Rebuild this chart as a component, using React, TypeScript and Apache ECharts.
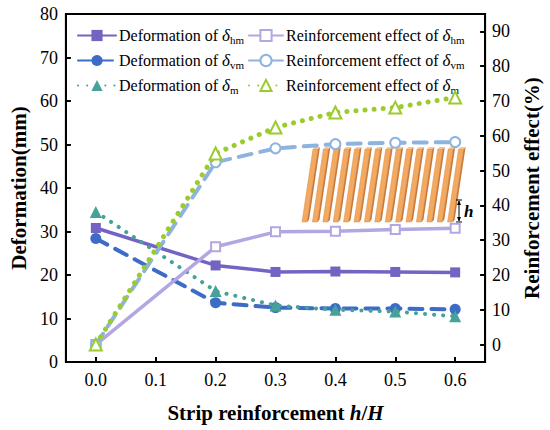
import React, { useEffect, useRef } from 'react';
import * as echarts from 'echarts';

const xValues = [0, 0.2, 0.3, 0.4, 0.5, 0.6];
const xTicks = [0, 0.1, 0.2, 0.3, 0.4, 0.5, 0.6];
const rightTicks = [0, 10, 20, 30, 40, 50, 60, 70, 80, 90];

const seriesNames = [
  'Deformation of δhm',
  'Deformation of δvm',
  'Deformation of δm',
  'Reinforcement effect of δhm',
  'Reinforcement effect of δvm',
  'Reinforcement effect of δm',
];

const defHm = [30.8, 22.2, 20.7, 20.8, 20.7, 20.6];
const defVm = [28.4, 13.6, 12.5, 12.3, 12.3, 12.1];
const defM = [34.5, 16.3, 13.0, 12.0, 11.6, 10.5];
const effHm = [0, 28.1, 32.4, 32.6, 33.1, 33.4];
const effVm = [0, 52.4, 56.4, 57.6, 58.0, 58.2];
const effM = [0, 54.9, 62.4, 66.7, 68.1, 71.0];

const FONT = 'Liberation Serif, Times New Roman, serif';

function App() {
  const ref = useRef<HTMLDivElement>(null);
  useEffect(() => {
    document.body.style.margin = '0';
    if (!ref.current) return;
    const chart = echarts.init(ref.current, undefined, { renderer: 'svg' });

    const mk = (
      idx: number,
      data: number[],
      yAxisIndex: number,
      color: string,
      lineType: any,
      width: number,
      symbol: string,
      symbolSize: number,
      hollow: boolean
    ) => ({
      name: seriesNames[idx],
      type: 'line',
      yAxisIndex,
      data: xValues.map((x, i) => [x, data[i]]),
      symbol,
      symbolSize,
      showSymbol: true,
      lineStyle: { color, width, type: lineType, cap: 'round' },
      itemStyle: hollow ? { color, borderColor: color, borderWidth: 2 } : { color },
      emphasis: { disabled: true },
      z: 3 + idx,
    });

    const dotted = [0.1, 9];
    const dashed = [13, 9];

    const slabs: any[] = [];
    for (let i = 0; i < 15; i++) {
      const bx = 302 + i * 10.4;
      slabs.push({
        type: 'polygon',
        shape: { points: [[bx, 222], [bx + 5, 222], [bx + 16, 149], [bx + 11, 149]] },
        style: { fill: '#f3a95f', stroke: '#d98c45', lineWidth: 0.5 },
        z: 1,
      });
      slabs.push({
        type: 'polygon',
        shape: { points: [[bx + 5, 222], [bx + 7, 220], [bx + 18, 147], [bx + 16, 149]] },
        style: { fill: '#c9793a' },
        z: 1,
      });
      slabs.push({
        type: 'polygon',
        shape: { points: [[bx + 11, 149], [bx + 16, 149], [bx + 18, 147], [bx + 13, 147]] },
        style: { fill: '#f7c48e' },
        z: 1,
      });
    }

    const legendText = {
      fontFamily: FONT,
      fontSize: 16,
      color: '#000',
      padding: [0, 0, 0, -2],
      rich: {
        d: { fontFamily: FONT, fontSize: 17, fontStyle: 'italic', color: '#000' },
        s: { fontFamily: FONT, fontSize: 11, padding: [8, 0, 0, 0], color: '#000' },
      },
    };
    const legendFormatter = (name: string) => name.replace(/δ(\w+)$/, '{d|δ}{s|$1}');

    const tickLabel = {
      fontFamily: FONT,
      fontSize: 18,
      color: '#000',
      rich: { t: { fontFamily: FONT, fontSize: 18, color: '#000' } },
    };

    chart.setOption({
      animation: false,
      backgroundColor: '#fff',
      textStyle: { fontFamily: FONT },
      grid: {
        left: 61,
        right: 59,
        top: 14,
        bottom: 68,
        show: true,
        borderColor: '#000',
        borderWidth: 2,
        backgroundColor: 'transparent',
      },
      legend: [
        {
          data: seriesNames.slice(0, 3),
          orient: 'vertical',
          left: 72,
          top: 22,
          itemWidth: 38,
          itemHeight: 14,
          itemGap: 7,
          textStyle: legendText,
          formatter: legendFormatter,
          selectedMode: false,
        },
        {
          data: seriesNames.slice(3, 6),
          orient: 'vertical',
          left: 243,
          top: 22,
          itemWidth: 34,
          itemHeight: 14,
          itemGap: 7,
          textStyle: legendText,
          formatter: legendFormatter,
          selectedMode: false,
        },
      ],
      xAxis: {
        type: 'value',
        min: -0.05,
        max: 0.65,
        name: 'Strip reinforcement {i|h}/{i|H}',
        nameLocation: 'middle',
        nameGap: 40,
        nameTextStyle: {
          fontFamily: FONT,
          fontSize: 21,
          fontWeight: 'bold',
          color: '#000',
          rich: {
            i: { fontFamily: FONT, fontSize: 21, fontWeight: 'bold', fontStyle: 'italic', color: '#000' },
          },
        },
        axisLine: { onZero: false, lineStyle: { color: '#000', width: 2 } },
        axisTick: { inside: true, length: 5, lineStyle: { color: '#000', width: 2 }, customValues: xTicks },
        axisLabel: {
          ...tickLabel,
          customValues: xTicks,
          formatter: (v: number) => '{t|' + v.toFixed(1) + '}',
          margin: 9,
        },
        splitLine: { show: false },
      },
      yAxis: [
        {
          type: 'value',
          min: 0,
          max: 80,
          interval: 10,
          position: 'left',
          name: 'Deformation(mm)',
          nameLocation: 'middle',
          nameGap: 28,
          nameRotate: 90,
          nameTextStyle: { fontFamily: FONT, fontSize: 21, fontWeight: 'bold', color: '#000' },
          axisLine: { show: true, onZero: false, lineStyle: { color: '#000', width: 2 } },
          axisTick: { show: true, inside: true, length: 5, lineStyle: { color: '#000', width: 2 } },
          axisLabel: { ...tickLabel, formatter: (v: number) => '{t|' + v + '}', margin: 8 },
          splitLine: { show: false },
        },
        {
          type: 'value',
          min: -5,
          max: 95,
          position: 'right',
          name: 'Reinforcement effect(%)',
          nameLocation: 'middle',
          nameGap: 28,
          nameRotate: 90,
          nameTextStyle: { fontFamily: FONT, fontSize: 21, fontWeight: 'bold', color: '#000' },
          axisLine: { show: true, onZero: false, lineStyle: { color: '#000', width: 2 } },
          axisTick: {
            show: true,
            inside: true,
            length: 5,
            lineStyle: { color: '#000', width: 2 },
            customValues: rightTicks,
          },
          axisLabel: {
            ...tickLabel,
            customValues: rightTicks,
            formatter: (v: number) => '{t|' + v + '}',
            margin: 7,
          },
          splitLine: { show: false },
        },
      ],
      graphic: [
        ...slabs,
        {
          type: 'line',
          shape: { x1: 459, y1: 201, x2: 459, y2: 221 },
          style: { stroke: '#000', lineWidth: 1 },
          z: 2,
        },
        {
          type: 'line',
          shape: { x1: 456, y1: 200, x2: 462, y2: 200 },
          style: { stroke: '#000', lineWidth: 1 },
          z: 2,
        },
        {
          type: 'line',
          shape: { x1: 456, y1: 222, x2: 462, y2: 222 },
          style: { stroke: '#000', lineWidth: 1 },
          z: 2,
        },
        {
          type: 'polygon',
          shape: { points: [[459, 200.5], [457, 205], [461, 205]] },
          style: { fill: '#000' },
          z: 2,
        },
        {
          type: 'polygon',
          shape: { points: [[459, 221.5], [457, 217], [461, 217]] },
          style: { fill: '#000' },
          z: 2,
        },
        {
          type: 'text',
          x: 464,
          y: 211,
          style: {
            text: 'h',
            fontFamily: FONT,
            fontSize: 17,
            fontWeight: 'bold',
            fontStyle: 'italic',
            fill: '#000',
            verticalAlign: 'middle',
          },
          z: 2,
        },
      ],
      series: [
        mk(0, defHm, 0, '#7563c4', 'solid', 3.5, 'rect', 10, false),
        mk(1, defVm, 0, '#3d6cc6', dashed, 4, 'circle', 11, false),
        mk(2, defM, 0, '#46a199', dotted, 4, 'triangle', 12, false),
        mk(3, effHm, 1, '#b3a6e2', 'solid', 3.5, 'emptyRect', 9, true),
        mk(4, effVm, 1, '#8db3df', dashed, 4, 'emptyCircle', 10, true),
        mk(5, effM, 1, '#9ccb2e', dotted, 5, 'emptyTriangle', 12, true),
      ],
    });
    return () => chart.dispose();
  }, []);
  return <div ref={ref} style={{ width: 550, height: 430 }} />;
}

export default App;
